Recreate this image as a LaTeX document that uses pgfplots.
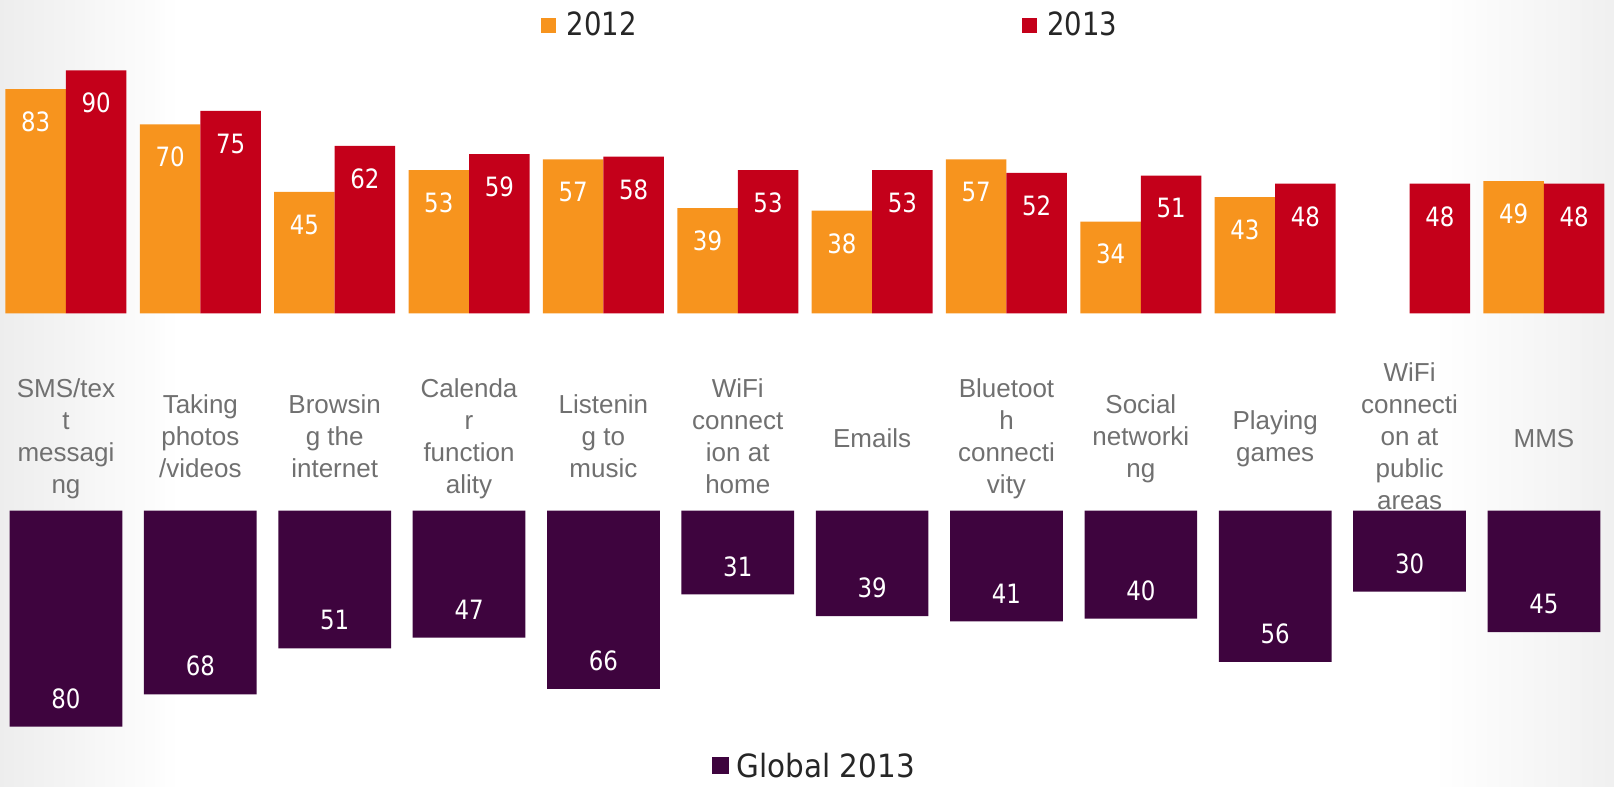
\documentclass[border=0pt]{standalone}
\usepackage{pgfplots}
\pgfplotsset{compat=1.18}
\usepackage{fontspec}
\setmainfont{Liberation Sans}
\newfontfamily\tahoma[FakeStretch=0.86]{DejaVu Sans}
\newfontfamily\tahomaw[FakeStretch=0.92]{DejaVu Sans}
\definecolor{c2012}{RGB}{247,148,30}
\definecolor{c2013}{RGB}{196,0,26}
\definecolor{cglob}{RGB}{62,4,62}
\definecolor{lblgray}{RGB}{112,112,112}
\definecolor{legtext}{RGB}{38,38,38}
\begin{document}
\begin{tikzpicture}
\shade[left color=black!7, right color=white] (0pt,0pt) rectangle (90pt,-393.5pt);
\shade[left color=white, right color=black!6] (717pt,0pt) rectangle (807pt,-393.5pt);
\begin{axis}[
  at={(0pt,-156.65pt)}, anchor=south west,
  x=67.18pt, y=1.35pt,
  xmin=-0.491, xmax=11.521, ymin=0, ymax=110,
  ybar=0pt, bar width=30.25pt,
  axis line style={draw=none},
  xtick={0,...,11}, ytick=\empty,
  major tick length=0pt,
  xticklabels={{SMS/tex\\t\\messagi\\ng},{Taking\\photos\\/videos},{Browsin\\g the\\internet},{Calenda\\r\\function\\ality},{Listenin\\g to\\music},{WiFi\\connect\\ion at\\home},{Emails},{Bluetoot\\h\\connecti\\vity},{Social\\networki\\ng},{Playing\\games},{WiFi\\connecti\\on at\\public\\areas},{MMS}},
  xticklabel style={font=\fontsize{13}{16}\selectfont, text=lblgray, align=center, anchor=center, yshift=-64pt, inner sep=0pt, execute at begin node=\strut, execute at end node=\strut},
  /pgf/number format/assume math mode=true,
  nodes near coords,
  every node near coord/.append style={font=\tahoma\fontsize{13.3}{16}\selectfont, text=white, anchor=center, yshift=-16.4pt},
  legend columns=2,
  legend style={draw=none, fill=none, at={(0.3352,0.9707)}, anchor=west, inner sep=0pt, outer sep=0pt, nodes={inner sep=0pt}, font=\tahoma\fontsize{16}{19}\selectfont, text=legtext, /tikz/every odd column/.append style={column sep=5.3pt}, /tikz/every even column/.append style={column sep=192.5pt}},
  legend image code/.code={\fill[#1] (0pt,-3.95pt) rectangle (7.5pt,3.55pt);},
  clip=false,
]
\addplot[fill=c2012, draw=none] coordinates {(0,83) (1,70) (2,45) (3,53) (4,57) (5,39) (6,38) (7,57) (8,34) (9,43) (11,49)};
\addplot[fill=c2013, draw=none] coordinates {(0,90) (1,75) (2,62) (3,59) (4,58) (5,53) (6,53) (7,52) (8,51) (9,48) (10,48) (11,48)};
\legend{2012,2013}
\end{axis}
\begin{axis}[
  at={(0pt,-255.35pt)}, anchor=north west,
  x=67.18pt, y=1.35pt, y dir=reverse,
  xmin=-0.491, xmax=11.521, ymin=0, ymax=189.6,
  ybar, bar width=56.35pt,
  hide axis,
  /pgf/number format/assume math mode=true,
  nodes near coords,
  every node near coord/.append style={font=\tahoma\fontsize{13.3}{16}\selectfont, text=white, anchor=center, yshift=14pt},
  legend style={draw=none, fill=none, at={(0.44114,0.5)}, anchor=west, inner sep=0pt, outer sep=0pt, nodes={inner sep=0pt}, font=\tahomaw\fontsize{16}{19}\selectfont, text=legtext, /tikz/every odd column/.append style={column sep=3.85pt}},
  legend image code/.code={\fill[#1] (0pt,-3.5pt) rectangle (8.5pt,5pt);},
  clip=false,
]
\addplot[fill=cglob, draw=none] coordinates {(0,80) (1,68) (2,51) (3,47) (4,66) (5,31) (6,39) (7,41) (8,40) (9,56) (10,30) (11,45)};
\legend{Global 2013}
\end{axis}
\pgfresetboundingbox
\path[use as bounding box] (0pt,0pt) rectangle (807pt,-393.5pt);
\end{tikzpicture}
\end{document}
